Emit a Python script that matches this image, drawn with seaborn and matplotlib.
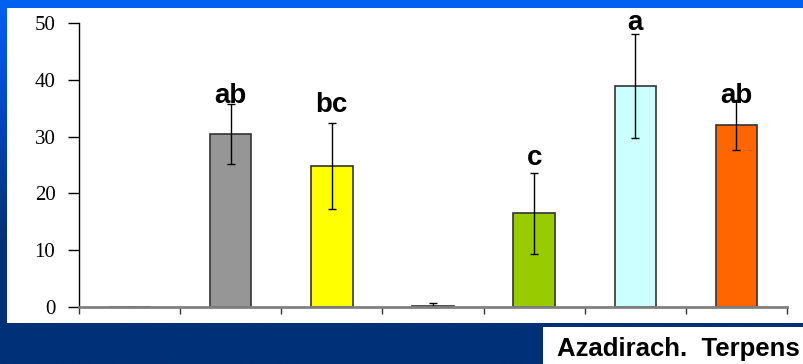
import numpy as np
import pandas as pd
import seaborn as sns
import matplotlib.pyplot as plt
from matplotlib.colors import LinearSegmentedColormap
from matplotlib.patches import Rectangle

# data
groups = ['T1', 'T2', 'T3', 'T4', 'T5', 'T6', 'T7']
means = [0.0, 30.4, 24.8, 0.25, 16.5, 38.9, 32.0]
errors = [0.0, 5.3, 7.6, 0.4, 7.1, 9.2, 4.4]
letters = ['', 'ab', 'bc', '', 'c', 'a', 'ab']
letter_y = [None, 35.9, 34.3, None, 25.0, 48.8, 35.9]
colors = ['#FFFFFF', '#969696', '#FFFF00', '#800000', '#99CC00', '#CCFFFF', '#FF6600']
yticks = [0, 10, 20, 30, 40, 50]

W, H = 804, 364
fig = plt.figure(figsize=(W / 100, H / 100), dpi=100)

# gradient background
bg = fig.add_axes([0, 0, 1, 1])
grad = LinearSegmentedColormap.from_list('bg', ['#0062F2', '#0046B8', '#003078', '#003078'])
bg.imshow(np.linspace(0, 1, 200).reshape(-1, 1), aspect='auto', cmap=grad,
          extent=[0, W, H, 0])
bg.set_xlim(0, W)
bg.set_ylim(H, 0)
bg.axis('off')
# white panel
bg.add_patch(Rectangle((7, 8), W - 7, 315, color='white', lw=0))
# label box at the bottom right
bg.add_patch(Rectangle((543, 327), W - 543, H - 327, color='white', lw=0))
bg.text(557, 356, 'Azadirach.  Terpens', fontsize=18.5, fontweight='bold',
        family='Liberation Sans', va='baseline', ha='left', color='black')

ax = fig.add_axes([79 / W, 57 / H, 708 / W, 284 / H])
df = pd.DataFrame({'group': groups, 'mean': means})
sns.barplot(data=df, x='group', y='mean', hue='group', palette=colors, saturation=1,
            width=0.41, edgecolor='#333333', linewidth=1.2, legend=False, ax=ax)
ax.errorbar(range(len(groups)), means, yerr=errors, fmt='none', ecolor='black',
            elinewidth=1, capsize=3, capthick=1)
for i, (lab, ly) in enumerate(zip(letters, letter_y)):
    if lab:
        ax.text(i, ly, lab, ha='center', va='baseline', fontsize=20, fontweight='bold',
                family='Liberation Sans', color='black')

ax.set_xlim(-0.5, len(groups) - 0.5)
ax.set_ylim(0, 50)
ax.set_yticks(yticks)
ax.set_yticklabels([str(t) for t in yticks], family='Liberation Serif', fontsize=15)
ax.set_xticks(np.arange(-0.5, len(groups), 1.0))
ax.set_xticklabels([])
ax.tick_params(axis='y', length=8, width=1, pad=9, color='black')
ax.tick_params(axis='x', length=5, width=1, color='#333333')
ax.set_xlabel('')
ax.set_ylabel('')
ax.patch.set_alpha(0)
for s in ['top', 'right']:
    ax.spines[s].set_visible(False)
ax.spines['left'].set_color('black')
ax.spines['left'].set_linewidth(1)
ax.spines['bottom'].set_color('#808080')
ax.spines['bottom'].set_linewidth(2)

fig.savefig('out.png', dpi=100)
